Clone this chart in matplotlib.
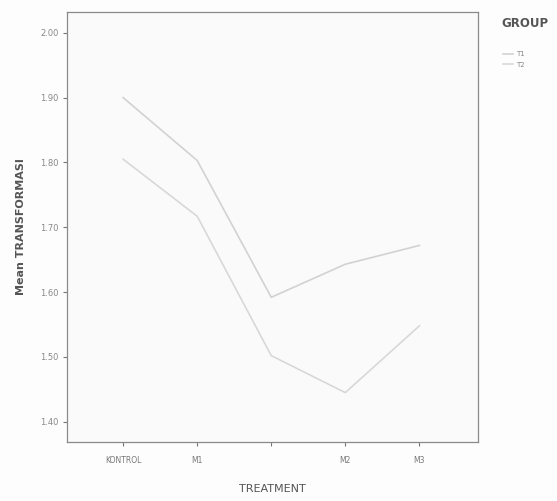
import numpy as np
from matplotlib import pyplot as plt

treatments = ['KONTROL', 'M1', '', 'M2', 'M3']
t1_means = [1.900, 1.803, 1.592, 1.643, 1.672]
t2_means = [1.805, 1.717, 1.502, 1.445, 1.548]
y_ticks = [1.40, 1.50, 1.60, 1.70, 1.80, 1.90, 2.00]

fig = plt.figure(figsize=(5.57, 5.01), dpi=100)
fig.patch.set_facecolor('#fdfdfd')
ax = fig.add_axes([0.120, 0.118, 0.738, 0.858])
ax.set_facecolor('#fafafa')

x = np.arange(len(treatments))
ax.plot(x, t1_means, color='#d2d2d2', lw=1.2, label='T1')
ax.plot(x, t2_means, color='#d8d8d8', lw=1.2, label='T2')

ax.set_xlim(-0.76, 4.79)
ax.set_ylim(1.369, 2.032)
ax.set_xticks(x)
ax.set_xticklabels(treatments, fontsize=5.5, color='#777777')
ax.set_yticks(y_ticks)
ax.set_yticklabels(['%.2f' % v for v in y_ticks], fontsize=6, color='#888888')
ax.tick_params(length=3, width=0.8, color='#777777', pad=3)
ax.tick_params(axis='x', pad=7)

for s in ax.spines.values():
    s.set_color('#8a8a8a')
    s.set_linewidth(0.9)

ax.set_ylabel('Mean TRANSFORMASI', fontsize=8, fontweight='bold', color='#555555', labelpad=10)
ax.set_xlabel('TREATMENT', fontsize=8, color='#555555', labelpad=14)

# legend title placed separately, entries sit lower as in the reference
fig.text(0.901, 0.953, 'GROUP', fontsize=8.5, fontweight='bold', color='#555555',
         ha='left', va='center')
leg = ax.legend(loc='upper left', bbox_to_anchor=(1.055, 0.915), frameon=False,
                fontsize=5, handlelength=1.4, handletextpad=0.5, labelspacing=0.6,
                borderaxespad=0)
for t in leg.get_texts():
    t.set_color('#888888')

fig.savefig('out.png', dpi=100, facecolor=fig.get_facecolor())
